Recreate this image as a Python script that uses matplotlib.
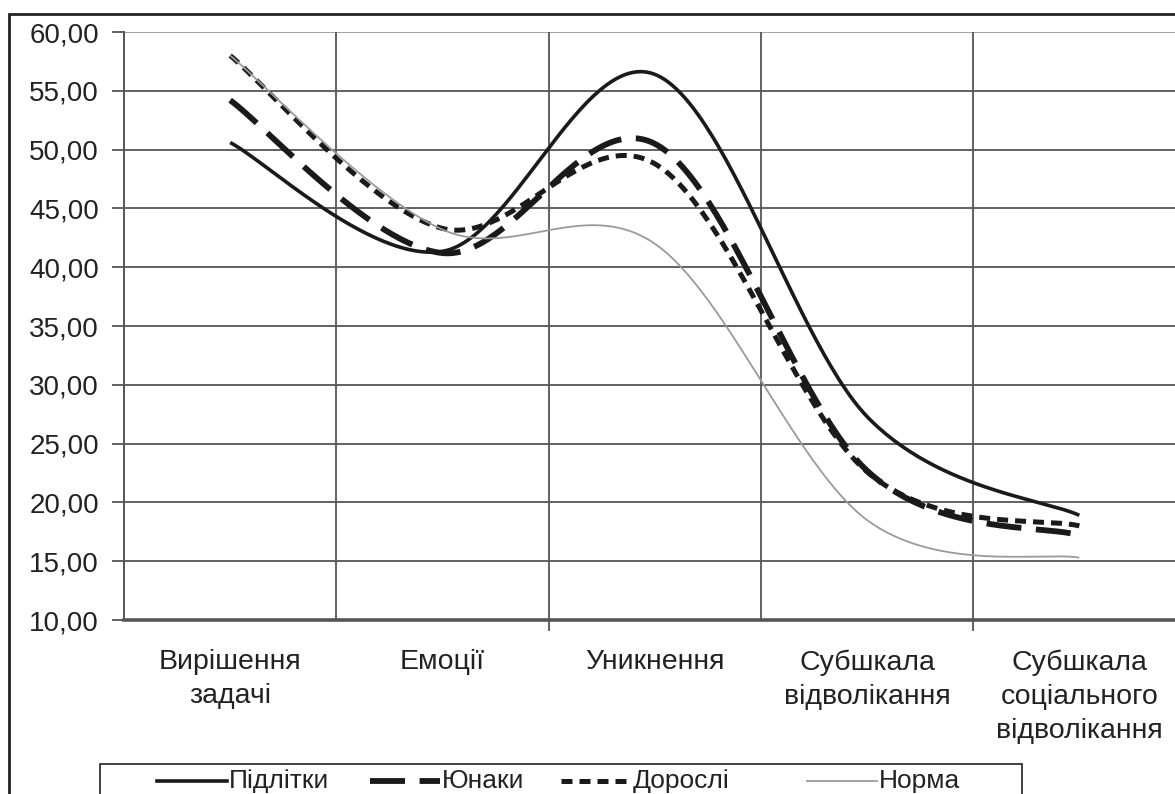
import numpy as np
import matplotlib
matplotlib.use("Agg")
import matplotlib.pyplot as plt
from matplotlib.lines import Line2D
from matplotlib.patches import Rectangle

categories = ["Вирішення\nзадачі", "Емоції", "Уникнення",
              "Субшкала\nвідволікання", "Субшкала\nсоціального\nвідволікання"]

pidlitky = [50.6, 41.35, 56.4, 27.3, 18.9]
yunaky = [54.2, 41.2, 50.5, 22.7, 17.2]
dorosli = [58.0, 43.3, 48.8, 22.6, 18.0]
norma = [58.0, 43.2, 42.0, 18.5, 15.3]

yticks = [10, 15, 20, 25, 30, 35, 40, 45, 50, 55, 60]


def smooth(vals, n=60):
    # Excel-like smoothed line: Catmull-Rom style bezier through the points
    x = np.arange(len(vals), dtype=float)
    y = np.asarray(vals, dtype=float)
    pts = np.column_stack([x, y])
    out = []
    for i in range(len(pts) - 1):
        p0 = pts[i - 1] if i > 0 else pts[i]
        p1 = pts[i]
        p2 = pts[i + 1]
        p3 = pts[i + 2] if i + 2 < len(pts) else pts[i + 1]
        c1 = p1 + (p2 - p0) / 6
        c2 = p2 - (p3 - p1) / 6
        t = np.linspace(0, 1, n)[:, None]
        b = ((1 - t) ** 3) * p1 + 3 * ((1 - t) ** 2) * t * c1 + 3 * (1 - t) * t ** 2 * c2 + t ** 3 * p2
        out.append(b if i == 0 else b[1:])
    b = np.vstack(out)
    return b[:, 0], b[:, 1]


W, H = 1175, 794
fig = plt.figure(figsize=(W / 100, H / 100), dpi=100)
fnt = ["Liberation Sans", "DejaVu Sans"]

# outer frame (chart area border, cropped on the right and bottom)
fig.patches.append(Rectangle((9 / W, -0.1), 1.2, (H - 14) / H + 0.1, transform=fig.transFigure,
                             fill=False, edgecolor="#222222", linewidth=2))

ax = fig.add_axes([124 / W, (H - 620) / H, 1061.5 / W, 588 / H])
ax.set_xlim(-0.5, 4.5)
ax.set_ylim(10, 60)

for v in yticks[1:]:
    ax.axhline(v, color="#555555" if v < 60 else "#999999", linewidth=1.3, zorder=1)
for k in range(1, 5):
    ax.axvline(k - 0.5, color="#555555", linewidth=1.3, zorder=1)

styles = [
    (pidlitky, "Підлітки", dict(color="#1a1a1a", linewidth=2.6, linestyle="-")),
    (yunaky, "Юнаки", dict(color="#1a1a1a", linewidth=4.2, linestyle=(0, (6, 2.5)))),
    (dorosli, "Дорослі", dict(color="#1a1a1a", linewidth=3.6, linestyle=(0, (2.2, 1.4)))),
    (norma, "Норма", dict(color="#9a9a9a", linewidth=1.3, linestyle="-")),
]
order = [3, 0, 1, 2]
for idx in order:
    vals, name, st = styles[idx]
    xs, ys = smooth(vals)
    ax.plot(xs, ys, zorder=3 + idx, solid_capstyle="butt", dash_capstyle="butt", **st)

ax.set_yticks(yticks)
ax.set_yticklabels([f"{v:.2f}".replace(".", ",") for v in yticks], fontsize=20, family=fnt, color="#222222")
ax.set_xticks([1.5, 3.5])
ax.set_xticklabels([])
ax.tick_params(axis="y", length=9, width=1.3, color="#555555", pad=9)
ax.tick_params(axis="x", length=8, width=1.3, color="#555555", direction="out")

for i, lab in enumerate(categories):
    ax.text(i, 7.5, lab, ha="center", va="top", fontsize=20.5, family=fnt,
            color="#222222", linespacing=1.4, transform=ax.transData, clip_on=False)

for s in ["top", "right"]:
    ax.spines[s].set_visible(False)
ax.spines["left"].set_color("#555555")
ax.spines["left"].set_linewidth(1.4)
ax.spines["bottom"].set_color("#555555")
ax.spines["bottom"].set_linewidth(2.6)

# legend box (cropped at the bottom)
fig.patches.append(Rectangle((100 / W, -0.05), 922 / W, (H - 764) / H + 0.05, transform=fig.transFigure,
                             fill=False, edgecolor="#333333", linewidth=1.3))
leg_text_x = [229, 442, 633, 879]
ly = (H - 781) / H
for px, idx in zip(leg_text_x, [0, 1, 2, 3]):
    vals, name, st = styles[idx]
    fig.lines.append(Line2D([(px - 72) / W, (px - 2) / W], [ly, ly], transform=fig.transFigure,
                            dash_capstyle="butt", **st))
    fig.text(px / W, ly, name, ha="left", va="center", fontsize=19, family=fnt, color="#222222")

fig.savefig("out.png", dpi=100, facecolor="white")
